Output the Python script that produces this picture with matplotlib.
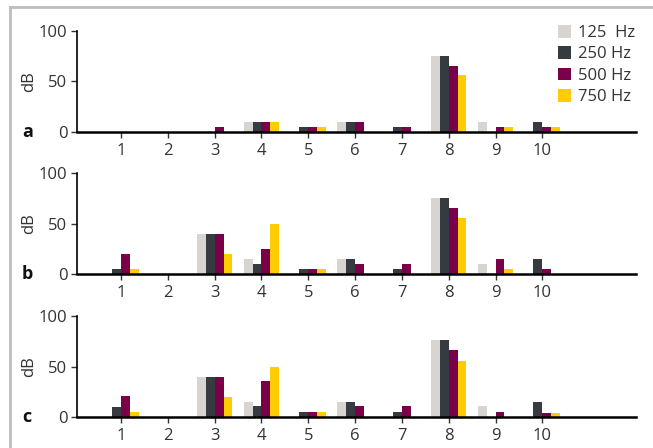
import matplotlib
matplotlib.use("Agg")
from matplotlib import pyplot as plt
from matplotlib.lines import Line2D
import numpy as np

plt.rcParams['font.family'] = ['Open Sans', 'DejaVu Sans']

positions = [1, 2, 3, 4, 5, 6, 7, 8, 9, 10]
series_names = ["125  Hz", "250 Hz", "500 Hz", "750 Hz"]
colors = ["#D8D5D0", "#363A41", "#7A0049", "#FFCC00"]

# panel a
a_125 = [0, 0, 0, 10, 0, 10, 0, 75, 10, 0]
a_250 = [0, 0, 0, 10, 5, 10, 5, 75, 0, 10]
a_500 = [0, 0, 5, 10, 5, 10, 5, 65, 5, 5]
a_750 = [0, 0, 0, 10, 5, 0, 0, 56, 5, 5]

# panel b
b_125 = [0, 0, 40, 15, 0, 15, 0, 75, 10, 0]
b_250 = [5, 0, 40, 10, 5, 15, 5, 75, 0, 15]
b_500 = [20, 0, 40, 25, 5, 10, 10, 65, 15, 5]
b_750 = [5, 0, 20, 50, 5, 0, 0, 55, 5, 0]

# panel c
c_125 = [0, 0, 40, 15, 0, 15, 0, 76, 11, 0]
c_250 = [10, 0, 40, 11, 5, 15, 5, 76, 0, 15]
c_500 = [21, 0, 40, 36, 5, 11, 11, 66, 5, 4]
c_750 = [5, 0, 20, 50, 5, 0, 0, 55, 0, 4]

panels = [
    ("a", [a_125, a_250, a_500, a_750]),
    ("b", [b_125, b_250, b_500, b_750]),
    ("c", [c_125, c_250, c_500, c_750]),
]

fig = plt.figure(figsize=(6.53, 4.48), dpi=100)

# grey frame (top and left)
fig.add_artist(Line2D([10/653, 1], [1 - 7/448, 1 - 7/448], color="#BDBDBD", lw=2))
fig.add_artist(Line2D([10/653, 10/653], [0, 1 - 7/448], color="#BDBDBD", lw=2))

bottoms = [0.7054, 0.3884, 0.0692]
w = 0.19
offsets = [-1.5 * w, -0.5 * w, 0.5 * w, 1.5 * w]
x = np.array(positions)

for (label, data), bot in zip(panels, bottoms):
    ax = fig.add_axes([0.1179, bot, 0.856, 0.2254])
    for vals, off, col, name in zip(data, offsets, colors, series_names):
        ax.bar(x + off, vals, width=w, color=col, label=name, linewidth=0)
    ax.set_xlim(0.06, 12.0)
    ax.set_ylim(0, 100)
    ax.set_yticks([0, 50, 100])
    ax.set_xticks(positions)
    ax.spines['top'].set_visible(False)
    ax.spines['right'].set_visible(False)
    ax.spines['left'].set_linewidth(1.2)
    ax.spines['bottom'].set_linewidth(1.8)
    ax.tick_params(axis='both', labelsize=12, colors="#333333", length=4, width=1)
    ax.tick_params(axis='y', pad=3)
    ax.tick_params(axis='x', pad=4)
    ax.set_ylabel("dB", fontsize=12, color="#333333")
    ax.yaxis.set_label_coords(-0.072, 0.5)
    ax.text(-0.089, 0.0, label, transform=ax.transAxes, fontsize=13,
            fontweight='bold', color="#111111", ha='center', va='center')
    if label == "a":
        ax.legend(loc='upper left', bbox_to_anchor=(558/653, 1 - 25/448),
                  bbox_transform=fig.transFigure, frameon=False,
                  fontsize=12, handlelength=0.78, handleheight=0.78,
                  handletextpad=0.4, labelspacing=0.32, borderpad=0,
                  borderaxespad=0, labelcolor="#333333")

plt.savefig("out.png", dpi=100)
